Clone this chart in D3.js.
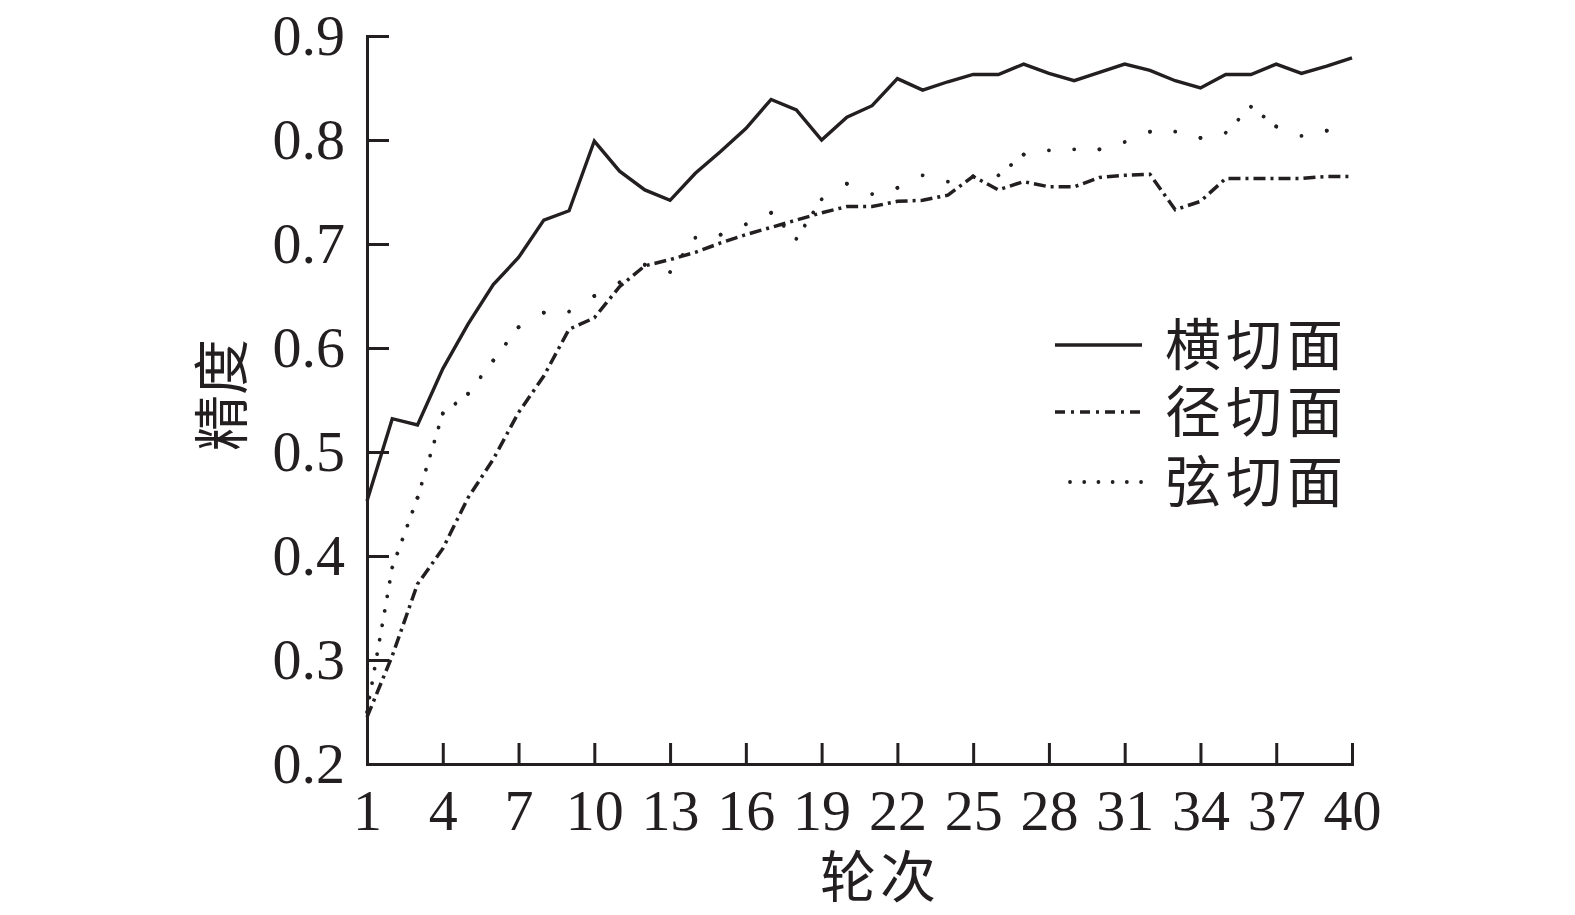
<!DOCTYPE html>
<html><head><meta charset="utf-8">
<script src="https://cdn.jsdelivr.net/npm/d3@7"></script>
<style>html,body{margin:0;padding:0;background:#fff;} svg{display:block}</style>
</head><body>
<svg id="chart" width="1575" height="915"></svg>
<script>
// ---------- data ----------
const epochs = d3.range(1, 41);
const seriesNames = ["横切面", "径切面", "弦切面"];
const transverse = [0.453,0.532,0.526,0.580,0.623,0.661,0.687,0.723,0.732,0.799,
                    0.770,0.752,0.742,0.768,0.789,0.811,0.839,0.829,0.800,0.822,
                    0.833,0.859,0.848,0.856,0.863,0.863,0.873,0.864,0.857,0.865,
                    0.873,0.867,0.857,0.850,0.863,0.863,0.873,0.864,0.871,0.879];
const radial     = [0.245,0.304,0.373,0.407,0.456,0.493,0.538,0.573,0.618,0.629,
                    0.659,0.679,0.685,0.692,0.701,0.709,0.716,0.723,0.730,0.736,
                    0.736,0.741,0.742,0.747,0.765,0.752,0.760,0.755,0.755,0.764,
                    0.766,0.767,0.733,0.741,0.763,0.763,0.763,0.763,0.765,0.765];
const tangential = [0.250,0.389,0.456,0.537,0.556,0.588,0.620,0.634,0.635,0.650,
                    0.663,0.680,0.673,0.706,0.709,0.719,0.730,0.705,0.743,0.758,
                    0.748,0.754,0.766,0.760,0.765,0.766,0.786,0.790,0.791,0.791,
                    0.798,0.808,0.808,0.802,0.807,0.832,0.813,0.804,0.809,0.827];
const xTicks = [1,4,7,10,13,16,19,22,25,28,31,34,37,40];
const yTicks = [0.2,0.3,0.4,0.5,0.6,0.7,0.8,0.9];
const xTitle = "轮次";
const yTitle = "精度";

// ---------- setup ----------
const ink = "#231f20";
const numFont = "'Liberation Serif', 'Times New Roman', serif";
const cjkFont = "'Noto Sans CJK SC', 'Noto Sans CJK JP', sans-serif";
const svg = d3.select("#chart");
const x = d3.scaleLinear().domain([1, 40]).range([367, 1352]);
const y = d3.scaleLinear().domain([0.2, 0.9]).range([764, 36]);

// ---------- axes ----------
const xAxis = d3.axisBottom(x).tickValues(xTicks).tickSizeInner(-21).tickSizeOuter(0)
  .tickPadding(25).tickFormat(d3.format("d"));
const yAxis = d3.axisLeft(y).tickValues(yTicks).tickSizeInner(-22).tickSizeOuter(0)
  .tickPadding(22).tickFormat(d3.format(".1f"));

function styleAxis(g) {
  g.select(".domain").attr("stroke", ink).attr("stroke-width", 3).attr("stroke-linecap", "square");
  g.selectAll(".tick line").attr("stroke", ink).attr("stroke-width", 3);
  g.selectAll(".tick text").attr("fill", ink).style("font-family", numFont).style("font-size", "58px");
}
svg.append("g").attr("transform", `translate(0,${y(0.2)})`).call(xAxis).call(styleAxis);
svg.append("g").attr("transform", `translate(${x(1)},0)`).call(yAxis).call(styleAxis);

// ---------- lines ----------
const pts = vals => epochs.map((e, i) => [e, vals[i]]);
const line = d3.line().x(d => x(d[0])).y(d => y(d[1]));

svg.append("path").datum(pts(transverse)).attr("d", line)
  .attr("fill", "none").attr("stroke", ink).attr("stroke-width", 3.4).attr("stroke-linejoin", "miter");

svg.append("path").datum(pts(radial)).attr("d", line)
  .attr("fill", "none").attr("stroke", ink).attr("stroke-width", 3.5)
  .attr("stroke-dasharray", "12,5,3,5");

// dotted: dots placed per segment so that they fall on every data point
const tp = pts(tangential);
const dotG = svg.append("g");
for (let i = 0; i < tp.length - 1; i++) {
  const a = tp[i], b = tp[i + 1];
  const dx = x(b[0]) - x(a[0]), dy = y(b[1]) - y(a[1]);
  const L = Math.hypot(dx, dy);
  const period = Math.hypot(25 * dx / L, 13.5 * dy / L);
  const k = Math.max(1, Math.round(L / period));
  const p = L / k;
  dotG.append("path").datum([a, b]).attr("d", line)
    .attr("fill", "none").attr("stroke", ink).attr("stroke-width", 3.8)
    .attr("stroke-linecap", "round")
    .attr("stroke-dasharray", `0.01,${(p - 0.01).toFixed(3)}`);
}

// ---------- legend ----------
const legendRows = [
  {name: seriesNames[0], y: 345, x0: 1055, dash: null, cap: "butt", w: 3.4},
  {name: seriesNames[1], y: 412, x0: 1055, dash: "10,6,3,6", cap: "butt", w: 3.5},
  {name: seriesNames[2], y: 482, x0: 1070, dash: "0.01,14.2", cap: "round", w: 3.8}
];
const lg = svg.append("g");
legendRows.forEach(r => {
  lg.append("line").attr("x1", r.x0).attr("x2", 1142).attr("y1", r.y).attr("y2", r.y)
    .attr("stroke", ink).attr("stroke-width", r.w).attr("stroke-linecap", r.cap)
    .attr("stroke-dasharray", r.dash);
  lg.append("text").attr("x", 1165).attr("y", r.y).attr("dy", "0.36em")
    .attr("fill", ink).style("font-family", cjkFont).style("font-size", "56px")
    .style("letter-spacing", "5px")
    .text(r.name);
});

// ---------- titles ----------
svg.append("text").attr("x", 880).attr("y", 877).attr("dy", "0.36em").attr("text-anchor", "middle")
  .attr("fill", ink).style("font-family", cjkFont).style("font-size", "56px")
  .style("letter-spacing", "4px").text(xTitle);
svg.append("text").attr("transform", "translate(222,395) rotate(-90)").attr("dy", "0.36em")
  .attr("text-anchor", "middle").attr("fill", ink)
  .style("font-family", cjkFont).style("font-size", "56px").text(yTitle);
</script>
</body></html>
